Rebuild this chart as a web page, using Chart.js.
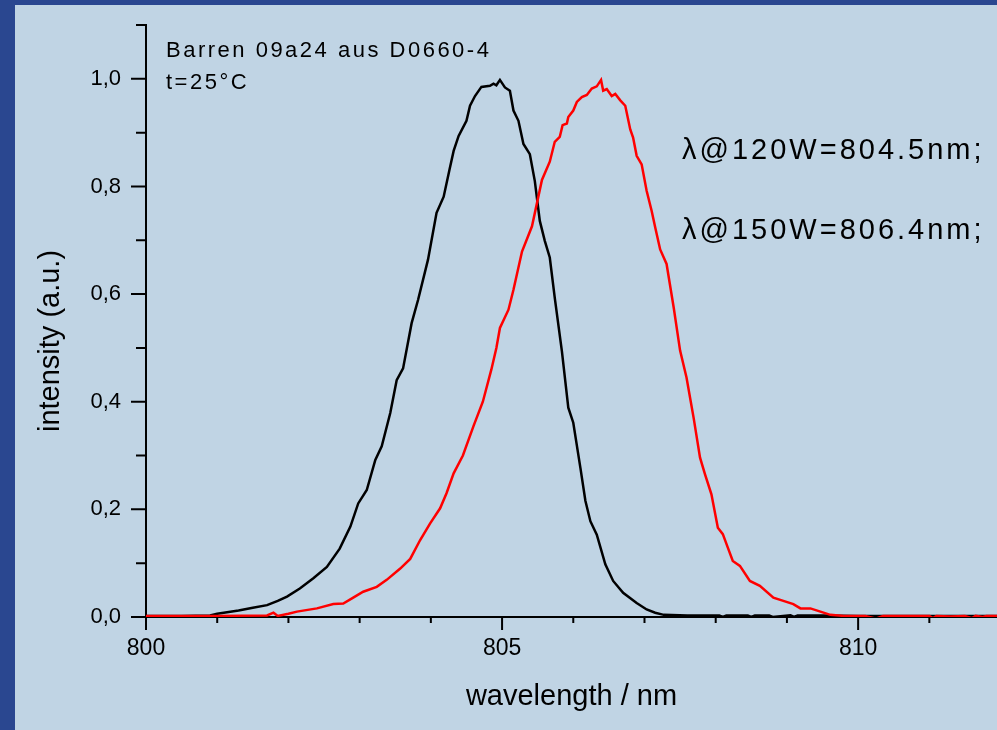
<!DOCTYPE html>
<html>
<head>
<meta charset="utf-8">
<script src="https://cdn.jsdelivr.net/npm/chart.js@4.4.1/dist/chart.umd.min.js"></script>
<style>
  html, body { margin: 0; padding: 0; background: #2a4790; }
  canvas { display: block; }
</style>
</head>
<body>
<canvas id="spektrum" width="997" height="730"></canvas>
<script>
// Spektrum bei 120 W (schwarz)
const wl120 = [800.0, 800.5, 800.9, 801.0, 801.3, 801.5, 801.7, 801.85, 801.98, 802.16, 802.35, 802.54,
  802.72, 802.87, 802.98, 803.1, 803.22, 803.31, 803.43, 803.52, 803.61, 803.73, 803.82, 803.96,
  804.08, 804.18, 804.26, 804.32, 804.39, 804.5, 804.55, 804.62, 804.71, 804.83, 804.88, 804.92,
  804.97, 805.04, 805.11, 805.16, 805.23, 805.3, 805.39, 805.46, 805.53, 805.6, 805.67, 805.74,
  805.84, 805.93, 806.0, 806.1, 806.17, 806.24, 806.33, 806.45, 806.56, 806.7, 806.89, 807.03,
  807.15, 807.27, 807.6, 808.05, 808.1, 808.15, 808.45, 808.5, 808.55, 808.75, 808.8, 809.05,
  809.1, 809.15, 809.5, 810.0, 811.0, 812.0];
const int120 = [0.002, 0.002, 0.003, 0.006, 0.012, 0.017, 0.022, 0.030, 0.038, 0.053, 0.072, 0.093,
  0.127, 0.168, 0.211, 0.236, 0.292, 0.317, 0.379, 0.440, 0.462, 0.546, 0.589, 0.664,
  0.751, 0.781, 0.830, 0.866, 0.894, 0.922, 0.950, 0.968, 0.985, 0.987, 0.991, 0.988,
  0.998, 0.984, 0.978, 0.941, 0.922, 0.879, 0.860, 0.810, 0.736, 0.699, 0.668, 0.593,
  0.494, 0.389, 0.361, 0.277, 0.216, 0.178, 0.153, 0.098, 0.067, 0.045, 0.026, 0.014,
  0.008, 0.004, 0.003, 0.003, 0.000, 0.003, 0.003, 0.000, 0.003, 0.003, 0.000, 0.003,
  0.000, 0.003, 0.003, 0.002, 0.002, 0.002];

// Spektrum bei 150 W (rot)
const wl150 = [800.0, 801.0, 801.7, 801.79, 801.85, 802.0, 802.12, 802.4, 802.63, 802.77, 802.91, 803.05,
  803.24, 803.38, 803.57, 803.71, 803.85, 803.99, 804.13, 804.22, 804.32, 804.45, 804.6, 804.73,
  804.85, 804.92, 804.97, 805.09, 805.16, 805.28, 805.42, 805.49, 805.56, 805.67, 805.74, 805.81,
  805.85, 805.91, 805.93, 806.0, 806.05, 806.12, 806.19, 806.26, 806.33, 806.39, 806.42, 806.47,
  806.54, 806.59, 806.66, 806.73, 806.8, 806.84, 806.89, 806.96, 807.03, 807.1, 807.15, 807.22,
  807.31, 807.41, 807.5, 807.59, 807.69, 807.78, 807.85, 807.94, 808.03, 808.1, 808.17, 808.24,
  808.34, 808.48, 808.62, 808.81, 808.95, 809.09, 809.19, 809.33, 809.47, 809.61, 809.8, 810.1,
  810.25, 810.35, 811.0, 811.05, 811.1, 811.3, 811.5, 811.6, 811.65, 811.75, 811.8, 812.0];
const int150 = [0.002, 0.002, 0.003, 0.008, 0.002, 0.006, 0.010, 0.016, 0.024, 0.025, 0.036, 0.047,
  0.056, 0.069, 0.090, 0.108, 0.143, 0.174, 0.202, 0.230, 0.267, 0.300, 0.355, 0.400,
  0.460, 0.500, 0.537, 0.571, 0.608, 0.679, 0.726, 0.769, 0.812, 0.846, 0.883, 0.892,
  0.914, 0.917, 0.929, 0.941, 0.957, 0.966, 0.970, 0.982, 0.986, 0.998, 0.978, 0.981,
  0.968, 0.972, 0.960, 0.950, 0.906, 0.891, 0.857, 0.841, 0.792, 0.755, 0.724, 0.683,
  0.656, 0.575, 0.495, 0.445, 0.370, 0.296, 0.265, 0.228, 0.166, 0.154, 0.129, 0.104,
  0.095, 0.067, 0.058, 0.036, 0.030, 0.024, 0.016, 0.016, 0.010, 0.004, 0.002, 0.002,
  -0.003, 0.002, 0.002, -0.002, 0.002, 0.001, 0.002, -0.002, 0.002, 0.000, 0.002, 0.002];

// Achsen: beschriftete und kleine Ticks
const xLabelTicks = [800, 805, 810];
const xMinorTicks = [801, 802, 803, 804, 806, 807, 808, 809, 811];
const yLabelTicks = [0, 0.2, 0.4, 0.6, 0.8, 1.0];
const yMinorTicks = [0.1, 0.3, 0.5, 0.7, 0.9, 1.1];

const textFont = '"Liberation Sans", Arial, sans-serif';

// Hintergrund: dunkelblauer Rahmen + hellblaues Feld
const hintergrund = {
  id: 'hintergrund',
  beforeDraw(chart) {
    const ctx = chart.ctx;
    ctx.save();
    ctx.fillStyle = '#2a4790';
    ctx.fillRect(0, 0, chart.width, chart.height);
    ctx.fillStyle = '#c0d4e4';
    ctx.fillRect(15, 5, chart.width - 15, chart.height - 5);
    ctx.restore();
  }
};

// Tickstriche nach außen, lang/kurz
const tickStriche = {
  id: 'tickStriche',
  afterDraw(chart) {
    const ctx = chart.ctx;
    const xs = chart.scales.x, ys = chart.scales.y;
    const area = chart.chartArea;
    ctx.save();
    ctx.strokeStyle = '#000';
    ctx.lineWidth = 2;
    ctx.beginPath();
    xLabelTicks.forEach(v => { const p = xs.getPixelForValue(v); ctx.moveTo(p, area.bottom); ctx.lineTo(p, area.bottom + 13); });
    xMinorTicks.forEach(v => { const p = xs.getPixelForValue(v); ctx.moveTo(p, area.bottom); ctx.lineTo(p, area.bottom + 6); });
    yLabelTicks.forEach(v => { const p = ys.getPixelForValue(v); ctx.moveTo(area.left, p); ctx.lineTo(area.left - 15, p); });
    yMinorTicks.forEach(v => { const p = ys.getPixelForValue(v); ctx.moveTo(area.left, p); ctx.lineTo(area.left - 10, p); });
    ctx.stroke();
    ctx.restore();
  }
};

// Beschriftungen im Diagramm
const beschriftung = {
  id: 'beschriftung',
  afterDraw(chart) {
    const ctx = chart.ctx;
    ctx.save();
    ctx.fillStyle = '#000';
    ctx.textAlign = 'left';
    ctx.textBaseline = 'alphabetic';
    ctx.letterSpacing = '2.5px';
    ctx.font = '22px ' + textFont;
    ctx.fillText('Barren 09a24 aus D0660-4', 166, 57);
    ctx.fillText('t=25°C', 166, 89);
    ctx.letterSpacing = '3px';
    ctx.font = '29px ' + textFont;
    ctx.fillText('λ@120W=804.5nm;', 682, 159);
    ctx.fillText('λ@150W=806.4nm;', 682, 239);
    // y-Achsentitel
    ctx.letterSpacing = '0px';
    ctx.font = '29px ' + textFont;
    ctx.translate(51, 341);
    ctx.rotate(-Math.PI / 2);
    ctx.textAlign = 'center';
    ctx.textBaseline = 'middle';
    ctx.fillText('intensity (a.u.)', 0, 0);
    ctx.restore();
  }
};

const ctx = document.getElementById('spektrum').getContext('2d');

new Chart(ctx, {
  type: 'line',
  data: {
    datasets: [
      {
        label: '150W',
        data: wl150.map((w, i) => ({ x: w, y: int150[i] })),
        borderColor: '#ff0000',
        borderWidth: 2.5,
        pointRadius: 0,
        tension: 0
      },
      {
        label: '120W',
        data: wl120.map((w, i) => ({ x: w, y: int120[i] })),
        borderColor: '#000000',
        borderWidth: 2.5,
        pointRadius: 0,
        tension: 0
      }
    ]
  },
  options: {
    responsive: false,
    animation: false,
    devicePixelRatio: 1,
    layout: { padding: { top: 25, right: 0, left: 0, bottom: 0 } },
    plugins: {
      legend: { display: false },
      tooltip: { enabled: false }
    },
    scales: {
      x: {
        type: 'linear',
        position: 'bottom',
        min: 800,
        max: 811.95,
        afterBuildTicks: s => { s.ticks = xLabelTicks.map(v => ({ value: v })); },
        afterFit: s => { s.height = 113; s.paddingLeft = 0; s.paddingRight = 0; },
        grid: { display: false },
        border: { display: true, color: '#000', width: 2 },
        ticks: {
          color: '#000',
          font: { family: textFont, size: 23 },
          padding: 10,
          maxRotation: 0,
          autoSkip: false
        },
        title: {
          display: true,
          text: 'wavelength / nm',
          color: '#000',
          font: { family: textFont, size: 29 },
          padding: { top: 0, bottom: 16 }
        }
      },
      y: {
        min: 0,
        max: 1.1,
        afterBuildTicks: s => { s.ticks = yLabelTicks.map(v => ({ value: v })); },
        afterFit: s => { s.width = 146; s.paddingTop = 0; s.paddingBottom = 0; },
        grid: { display: false },
        border: { display: true, color: '#000', width: 2 },
        ticks: {
          color: '#000',
          font: { family: textFont, size: 22 },
          padding: 17,
          callback: v => v.toFixed(1).replace('.', ',')
        }
      }
    }
  },
  plugins: [hintergrund, tickStriche, beschriftung]
});
</script>
</body>
</html>
